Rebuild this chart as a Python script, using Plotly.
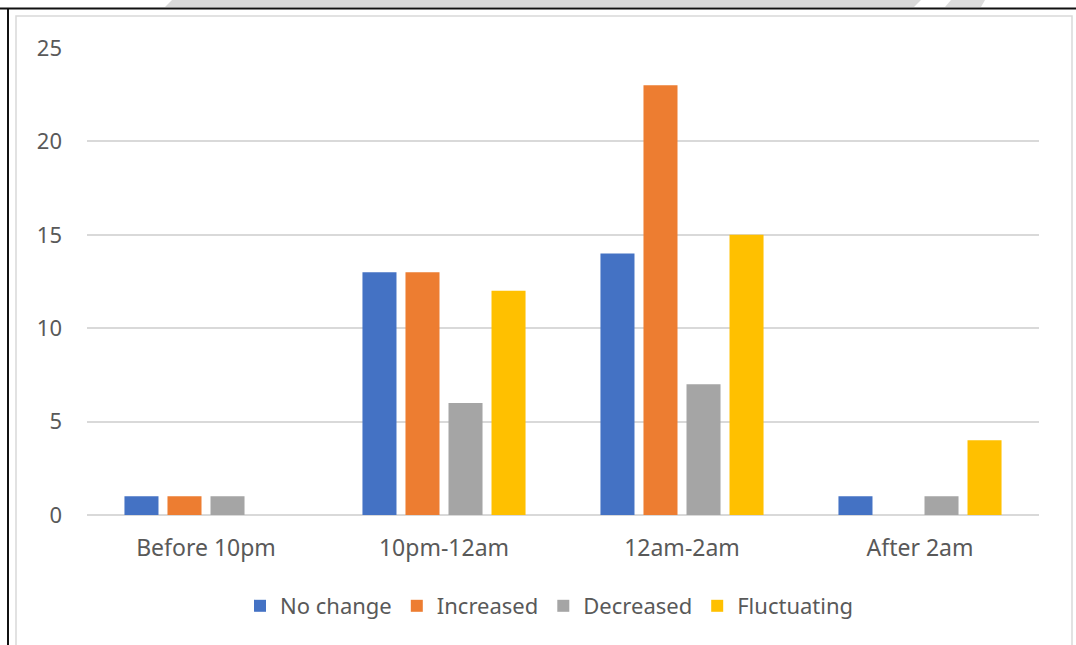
import plotly.graph_objects as go

categories = ["Before 10pm", "10pm-12am", "12am-2am", "After 2am"]
no_change = [1, 13, 14, 1]
increased = [1, 13, 23, 0]
decreased = [1, 6, 7, 1]
fluctuating = [0, 12, 15, 4]

series = [
    ("No change", no_change, "#4472C4"),
    ("Increased", increased, "#ED7D31"),
    ("Decreased", decreased, "#A5A5A5"),
    ("Fluctuating", fluctuating, "#FFC000"),
]

W, H = 1076, 645
L, R, T, B = 87, 37, 48, 130
pw, ph = W - L - R, H - T - B


def px(x):
    return (x - L) / pw


def py(y):
    return (H - B - y) / ph


fig = go.Figure()
for name, vals, color in series:
    fig.add_trace(go.Bar(name=name, x=categories, y=vals, marker_color=color,
                         marker_line_width=0))

font = "Noto Sans, Open Sans, sans-serif"
shapes = [
    # faint header band at the very top
    dict(type="path", xref="paper", yref="paper",
         path=f"M {px(172)} {py(0)} L {px(921)} {py(0)} L {px(914)} {py(7)} L {px(165)} {py(7)} Z",
         fillcolor="#d9d9d9", line_width=0, layer="below"),
    dict(type="path", xref="paper", yref="paper",
         path=f"M {px(951)} {py(0)} L {px(985)} {py(0)} L {px(981)} {py(7)} L {px(945)} {py(7)} Z",
         fillcolor="#dcdcdc", line_width=0, layer="below"),
    # outer dark frame
    dict(type="line", xref="paper", yref="paper", x0=px(0), x1=px(W), y0=py(8.5), y1=py(8.5),
         line=dict(color="#111111", width=2)),
    dict(type="line", xref="paper", yref="paper", x0=px(8), x1=px(8), y0=py(8), y1=py(H),
         line=dict(color="#111111", width=2)),
    # inner light chart-area border
    dict(type="rect", xref="paper", yref="paper", x0=px(16), x1=px(1072), y0=py(16), y1=py(H + 5),
         line=dict(color="#d9d9d9", width=1.5)),
]

fig.update_layout(
    width=W, height=H,
    margin=dict(l=L, r=R, t=T, b=B),
    paper_bgcolor="white", plot_bgcolor="white",
    barmode="group", bargap=0.277, bargroupgap=0.209,
    font=dict(family=font, size=22, color="#595959"),
    showlegend=True,
    legend=dict(orientation="h", x=px(549.5), xanchor="center", y=py(606), yanchor="middle",
                font=dict(size=22, color="#595959"), itemwidth=30, traceorder="normal"),
    shapes=shapes,
    xaxis=dict(showgrid=False, showline=False, ticks="", tickfont=dict(size=23, color="#595959"),
               ticklabelstandoff=17),
    yaxis=dict(range=[0, 25], dtick=5, showgrid=True, gridcolor="#d9d9d9", gridwidth=2,
               zeroline=True, zerolinecolor="#d9d9d9", zerolinewidth=2, showline=False,
               ticks="", tickfont=dict(size=22, color="#595959"), ticklabelstandoff=24),
)

fig.write_html("out.html")
